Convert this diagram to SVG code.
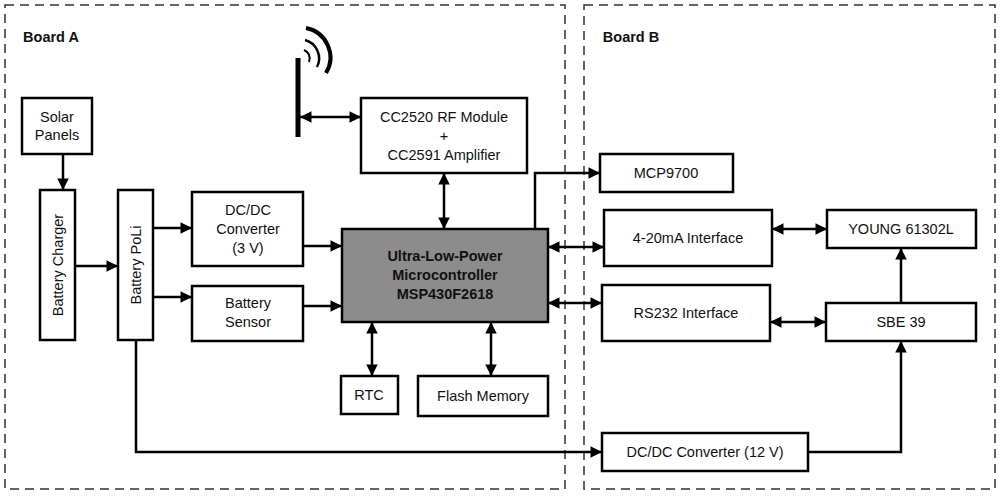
<svg xmlns="http://www.w3.org/2000/svg" width="1000" height="496" viewBox="0 0 1000 496">
<style>
.b{fill:#fff;stroke:#000;stroke-width:2.5}
.m{fill:#8c8c8c;stroke:#000;stroke-width:2.5}
.t{font-family:"Liberation Sans",Arial,sans-serif;font-size:14.5px;text-anchor:middle;fill:#111}
.bt{font-family:"Liberation Sans",Arial,sans-serif;font-size:14.5px;font-weight:bold;text-anchor:middle;fill:#111}
.c{fill:none;stroke:#000;stroke-width:2.5}
.d{fill:none;stroke:#333;stroke-width:1.5;stroke-dasharray:9,6}
</style>
<defs>
<marker id="a" viewBox="0 0 10 10" refX="10" refY="5" markerWidth="5.6" markerHeight="4.6" markerUnits="strokeWidth" orient="auto-start-reverse"><path d="M0,0L10,5L0,10z"/></marker>
</defs>
<rect width="1000" height="496" fill="#fff"/>
<g id="boards">
<rect class="d" x="5" y="5" width="560" height="484"/>
<rect class="d" x="584" y="5" width="411" height="484"/>
<text class="bt" x="51" y="42">Board A</text>
<text class="bt" x="631" y="42">Board B</text>
</g>
<g id="antenna">
<line x1="298" y1="58" x2="298" y2="137" stroke="#000" stroke-width="5"/>
<path d="M304,50 A9,9 0 0 1 309,62" fill="none" stroke="#000" stroke-width="2"/>
<path d="M305,40 A19,19 0 0 1 317,67" fill="none" stroke="#000" stroke-width="2.5"/>
<path d="M306,28 A30,30 0 0 1 326,73" fill="none" stroke="#000" stroke-width="4"/>
</g>
<g id="solar"><rect class="b" x="22" y="98" width="70" height="56"/><text class="t" x="57" y="122">Solar</text><text class="t" x="57" y="140">Panels</text></g>
<g id="charger"><rect class="b" x="40" y="190" width="35" height="150"/><text class="t" transform="translate(63,265) rotate(-90)">Battery Charger</text></g>
<g id="poli"><rect class="b" x="118" y="190" width="35" height="150"/><text class="t" transform="translate(141,265) rotate(-90)">Battery PoLi</text></g>
<g id="dcdc3"><rect class="b" x="192" y="192" width="111" height="74"/><text class="t" x="248" y="215">DC/DC</text><text class="t" x="248" y="234">Converter</text><text class="t" x="248" y="253">(3 V)</text></g>
<g id="sensor"><rect class="b" x="192" y="286" width="111" height="55"/><text class="t" x="248" y="308">Battery</text><text class="t" x="248" y="327">Sensor</text></g>
<g id="mcu"><rect class="m" x="342" y="229" width="206" height="93"/><text class="bt" x="445" y="261">Ultra-Low-Power</text><text class="bt" x="445" y="280">Microcontroller</text><text class="bt" x="445" y="299">MSP430F2618</text></g>
<g id="rf"><rect class="b" x="361" y="98" width="166" height="75"/><text class="t" x="444" y="122">CC2520 RF Module</text><text class="t" x="444" y="141">+</text><text class="t" x="444" y="160">CC2591 Amplifier</text></g>
<g id="rtc"><rect class="b" x="341" y="376" width="57" height="38"/><text class="t" x="369" y="400">RTC</text></g>
<g id="flash"><rect class="b" x="418" y="376" width="130" height="40"/><text class="t" x="483" y="401">Flash Memory</text></g>
<g id="mcp"><rect class="b" x="600" y="154" width="133" height="38"/><text class="t" x="666" y="178">MCP9700</text></g>
<g id="ma"><rect class="b" x="604" y="210" width="168" height="56"/><text class="t" x="688" y="243">4-20mA Interface</text></g>
<g id="rs232"><rect class="b" x="602" y="285" width="168" height="56"/><text class="t" x="686" y="318">RS232 Interface</text></g>
<g id="young"><rect class="b" x="827" y="210" width="149" height="38"/><text class="t" x="901" y="234">YOUNG 61302L</text></g>
<g id="sbe"><rect class="b" x="826" y="303" width="150" height="38"/><text class="t" x="901" y="327">SBE 39</text></g>
<g id="dcdc12"><rect class="b" x="602" y="433" width="206" height="38"/><text class="t" x="705" y="457">DC/DC Converter (12 V)</text></g>
<g id="connectors" class="c">
<path class="c" d="M63,154V190" marker-end="url(#a)"/>
<path class="c" d="M75,266H118" marker-end="url(#a)"/>
<path class="c" d="M153,228H192" marker-end="url(#a)"/>
<path class="c" d="M153,297H192" marker-end="url(#a)"/>
<path class="c" d="M303,246H342" marker-end="url(#a)"/>
<path class="c" d="M303,306H342" marker-end="url(#a)"/>
<path class="c" d="M300,117H361" marker-start="url(#a)" marker-end="url(#a)"/>
<path class="c" d="M444,173V229" marker-start="url(#a)" marker-end="url(#a)"/>
<path class="c" d="M535,229V173H600" marker-end="url(#a)"/>
<path class="c" d="M548,247H604" marker-start="url(#a)" marker-end="url(#a)"/>
<path class="c" d="M548,303H602" marker-start="url(#a)" marker-end="url(#a)"/>
<path class="c" d="M372,322V376" marker-start="url(#a)" marker-end="url(#a)"/>
<path class="c" d="M491,322V376" marker-start="url(#a)" marker-end="url(#a)"/>
<path class="c" d="M772,229H827" marker-start="url(#a)" marker-end="url(#a)"/>
<path class="c" d="M770,322H826" marker-start="url(#a)" marker-end="url(#a)"/>
<path class="c" d="M901,303V248" marker-end="url(#a)"/>
<path class="c" d="M136,340V452H602" marker-end="url(#a)"/>
<path class="c" d="M808,452H901V341" marker-end="url(#a)"/>
</g>
</svg>
